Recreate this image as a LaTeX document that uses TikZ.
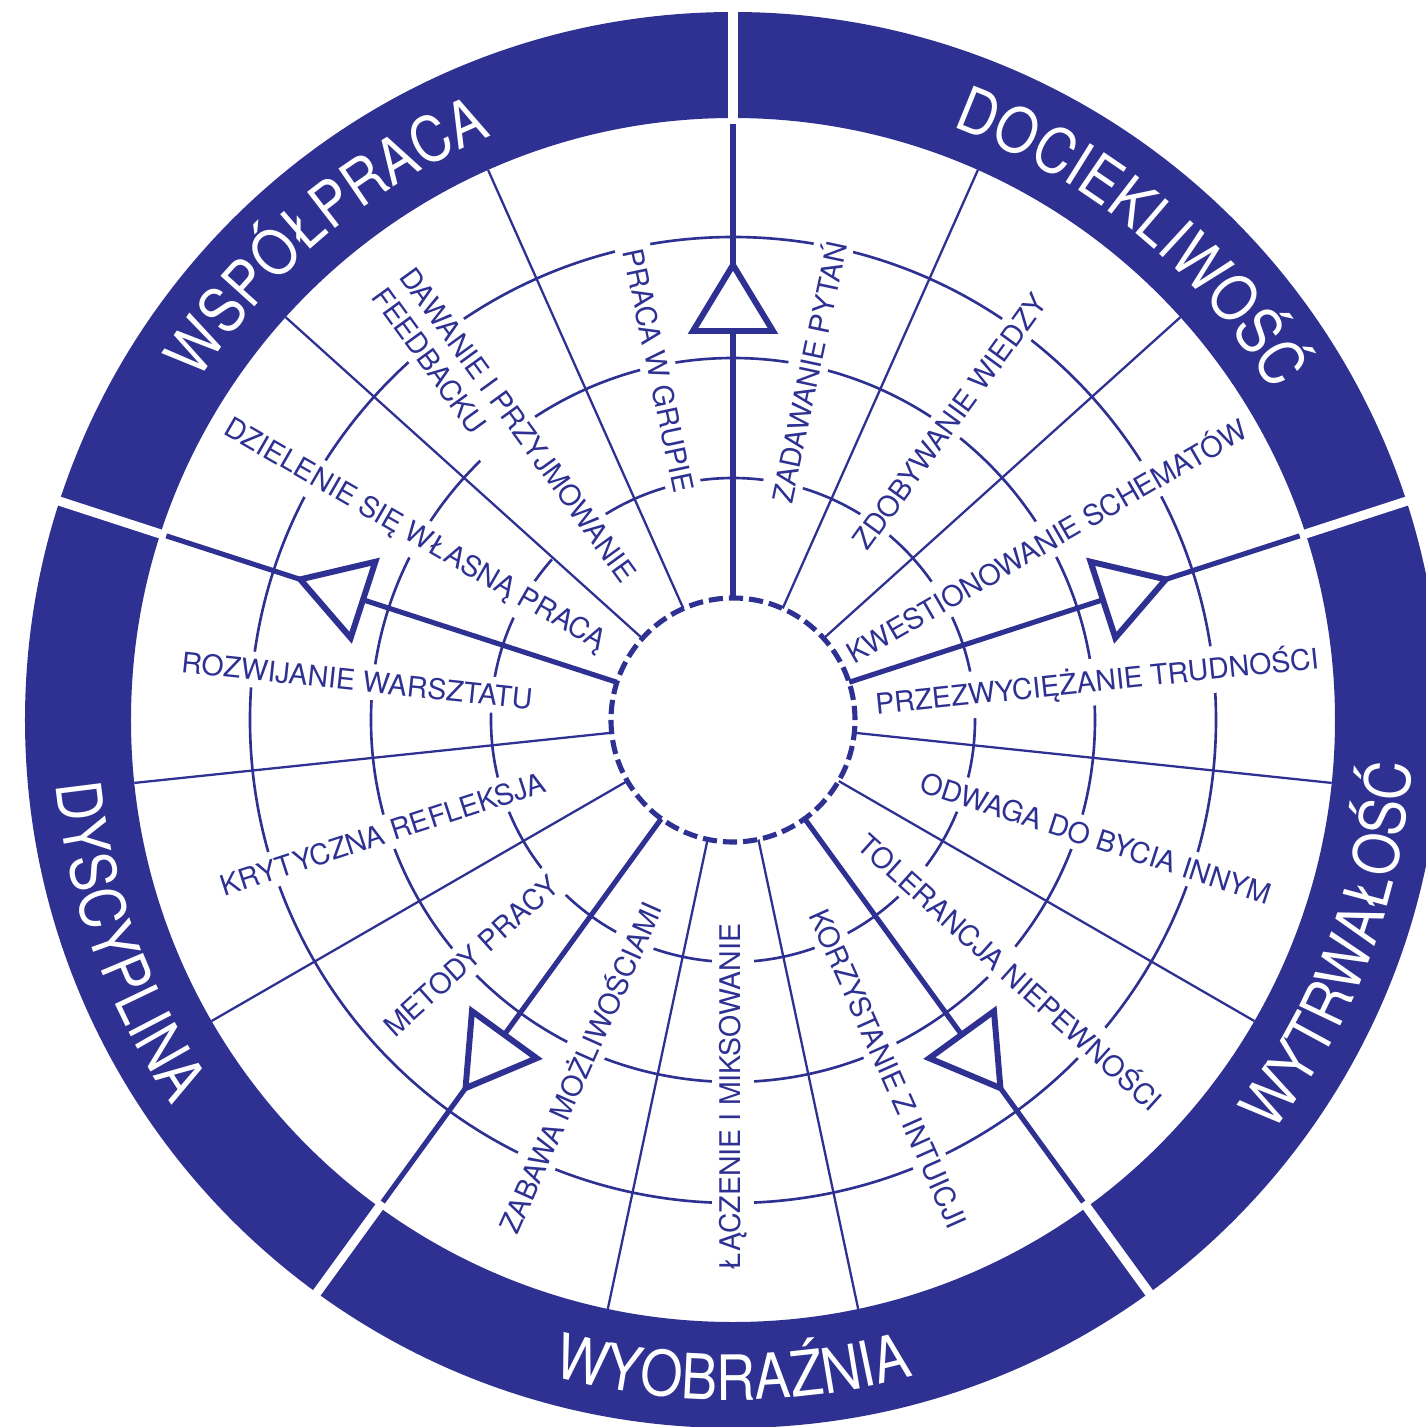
\documentclass[tikz,border=0pt]{standalone}
\usepackage{fontspec}
\setmainfont{TeX Gyre Heros}
\newfontfamily\ringfont[FakeStretch=0.87]{TeX Gyre Heros}
\usepackage{tikz}
\usetikzlibrary{calc,decorations.text}
\definecolor{wheelblue}{RGB}{46,49,146}

\begin{document}
\begin{tikzpicture}[x=0.1mm,y=0.1mm,
  circ/.style={wheelblue,line width=0.75pt},
  spoke/.style={wheelblue,line width=0.65pt},
  mainspoke/.style={wheelblue,line width=1.45pt},
  ringgap/.style={white,line width=2.6pt},
  arrowmark/.style={draw=wheelblue,fill=white,line width=1.7pt,line join=miter},
  skill/.style={text=wheelblue,fill=white,inner xsep=1.5pt,inner ysep=2pt,font=\fontsize{8.1}{9.7}\selectfont},
  ringlabel/.style={decorate,decoration={text along path,text align=center,text color=white,
    text={|\ringfont\fontsize{17.8}{20}\selectfont|#1}}}]

  \useasboundingbox (-733,-707) rectangle (693,720);
  \clip (-733,-707) rectangle (693,720);

  \foreach \r in {242,362,483}
    \draw[circ] (0,0) circle[radius=\r];

  \foreach \a/\r/\t [count=\i] in {78/356/ZADAWANIE PYTAŃ, 54/369/ZDOBYWANIE WIEDZY,
      30/361/KWESTIONOWANIE SCHEMATÓW, 6/366/PRZEZWYCIĘŻANIE TRUDNOŚCI,
      -18/382/ODWAGA DO BYCIA INNYM, -42/375/TOLERANCJA NIEPEWNOŚCI,
      -66/382/KORZYSTANIE Z INTUICJI}
    \node[skill,rotate=\a] (skill\i) at (\a:\r) {\t};
  \foreach \a/\r/\t [count=\i from 8] in {-90/377/ŁĄCZENIE I MIKSOWANIE,
      -114/380/ZABAWA MOŻLIWOŚCIAMI, -138/352/METODY PRACY,
      -162/368/KRYTYCZNA REFLEKSJA, 174/378/ROZWIJANIE WARSZTATU,
      150/368/DZIELENIE SIĘ WŁASNĄ PRACĄ, 102/357/PRACA W GRUPIE}
    \node[skill,rotate=\a+180] (skill\i) at (\a:\r) {\t};
  \node[skill,rotate=-54,align=left] (skill15) at ($(126:365)+(216:17)$)
    {DAWANIE I PRZYJMOWANIE\\FEEDBACKU};

  \foreach \a in {66,42,-6,-30,-78,-102,-150,-174,138,114}
    \draw[spoke] (\a:122) -- (\a:602);
  \foreach \a in {90,18,-54,-126,162}
    \draw[mainspoke] (\a:122) -- (\a:602);

  \draw[mainspoke,fill=white,dash pattern=on 4.04pt off 1.7pt] (0,0) circle[radius=122];

  \foreach \a in {90,18,-54,-126,162}
    \draw[arrowmark,rotate=\a] (455,0) -- (389,40) -- (389,-40) -- cycle;

  \fill[wheelblue,even odd rule] (0,0) circle[radius=708] (0,0) circle[radius=602];
  \foreach \a in {90,18,-54,-126,162}
    \draw[ringgap] (\a:596) -- (\a:720);

  \path[ringlabel=DOCIEKLIWOŚĆ] (90.5:632) arc[start angle=90.5,end angle=10.5,radius=632];
  \path[ringlabel=WSPÓŁPRACA] (170:632) arc[start angle=170,end angle=90,radius=632];
  \path[ringlabel=WYTRWAŁOŚĆ] (-60.5:680) arc[start angle=-60.5,end angle=19.5,radius=680];
  \path[ringlabel=WYOBRAŹNIA] (-130:680) arc[start angle=-130,end angle=-50,radius=680];
  \path[ringlabel=DYSCYPLINA] (-200:680) arc[start angle=-200,end angle=-120,radius=680];
\end{tikzpicture}
\end{document}
